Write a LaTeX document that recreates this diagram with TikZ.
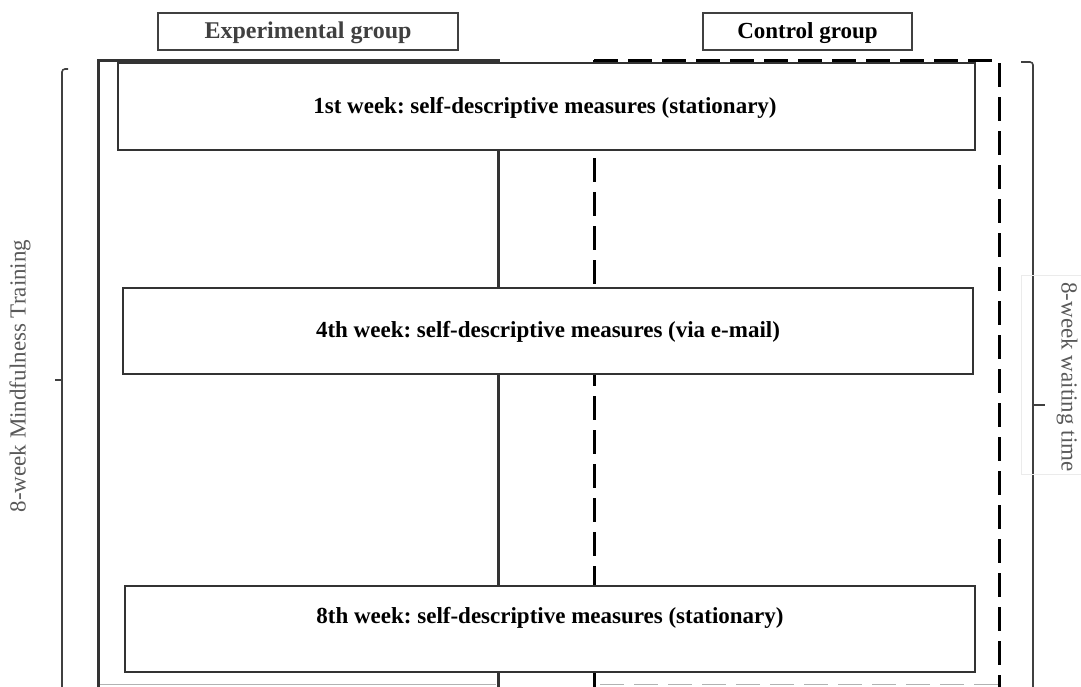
\documentclass[tikz,border=0pt]{standalone}
\usepackage{fontspec}
\setmainfont{Liberation Serif}
\frenchspacing
\begin{document}
\begin{tikzpicture}[x=1pt,y=-1pt,
  hdr/.style={draw=black!75, line width=1.2pt, fill=white, inner sep=0pt, font=\bfseries\fontsize{23}{26}\selectfont},
  wk/.style={draw=black!80, line width=1.2pt, fill=white, inner sep=0pt},
  wktext/.style={font=\bfseries\fontsize{23}{26}\selectfont},
  expframe/.style={draw=black!80, line width=3pt},
  ctlframe/.style={draw=black, line width=3pt, dash pattern=on 24pt off 10pt},
  brace/.style={draw=black!75, line width=1.6pt, rounded corners=3pt},
  side/.style={text=black!65, font=\fontsize{23}{26}\selectfont}]
\useasboundingbox (0,0) rectangle (1081,686);
% group frames
\coordinate (e1) at (98,692); \coordinate (e2) at (98,60);
\coordinate (e3) at (498,60); \coordinate (e4) at (498,692);
\draw[expframe] (e1) -- (e2) -- (e3) -- (e4);
\draw[draw=black!30, line width=1pt] (100,684) -- (496,684);
\coordinate (c1) at (594,692); \coordinate (c2) at (594,60);
\coordinate (c3) at (999,60); \coordinate (c4) at (999,692);
\draw[ctlframe] (c2) -- (c3) -- (c4);
\draw[ctlframe, dash phase=4pt] (c2) -- (c1);
\draw[draw=black!30, line width=1pt, dash pattern=on 24pt off 10pt] (600,684) -- (998,684);
% braces
\coordinate (lb1) at (68,69); \coordinate (lb2) at (62,69); \coordinate (lb3) at (62,692);
\coordinate (lm1) at (62,380); \coordinate (lm2) at (55,380);
\draw[brace] (lb1) -- (lb2) -- (lb3);
\draw[draw=black!75, line width=1.6pt] (lm1) -- (lm2);
\coordinate (rb1) at (1021,62); \coordinate (rb2) at (1033,62); \coordinate (rb3) at (1033,692);
\coordinate (rm1) at (1033,405); \coordinate (rm2) at (1045,405);
\draw[brace] (rb1) -- (rb2) -- (rb3);
\draw[draw=black!75, line width=1.6pt] (rm1) -- (rm2);
% headers
\node[hdr, text=black!75, minimum width=300pt, minimum height=37pt] (exp) at (308,31.5) {};
\node[text=black!75, font=\bfseries\fontsize{24}{26}\selectfont] (expt) at (308,33) {Experimental group};
\node[hdr, minimum width=209pt, minimum height=37pt] (ctl) at (807.5,31.5) {};
\node[font=\bfseries\fontsize{23}{26}\selectfont] (ctlt) at (807.5,33) {Control group};
% week boxes
\node[wk, minimum width=857pt, minimum height=87pt] (w1) at (546.5,106.5) {};
\node[wktext] (t1) at (545,108) {1st week: self-descriptive measures (stationary)};
\node[wk, minimum width=850pt, minimum height=86pt] (w4) at (548,331) {};
\node[wktext] (t4) at (548,332) {4th week: self-descriptive measures (via e-mail)};
\node[wk, minimum width=850pt, minimum height=86pt] (w8) at (550,629) {};
\node[wktext] (t8) at (550,618) {8th week: self-descriptive measures (stationary)};
% side labels
\node[side, rotate=90] (lt) at (20,376) {8-week Mindfulness Training};
\node[draw=black!8, line width=0.8pt, minimum width=199pt, minimum height=60pt, rotate=-90, inner sep=0pt] (rtbox) at (1051,375) {};
\node[side, rotate=-90] (rt) at (1067,377) {8-week waiting time};
\end{tikzpicture}
\end{document}
